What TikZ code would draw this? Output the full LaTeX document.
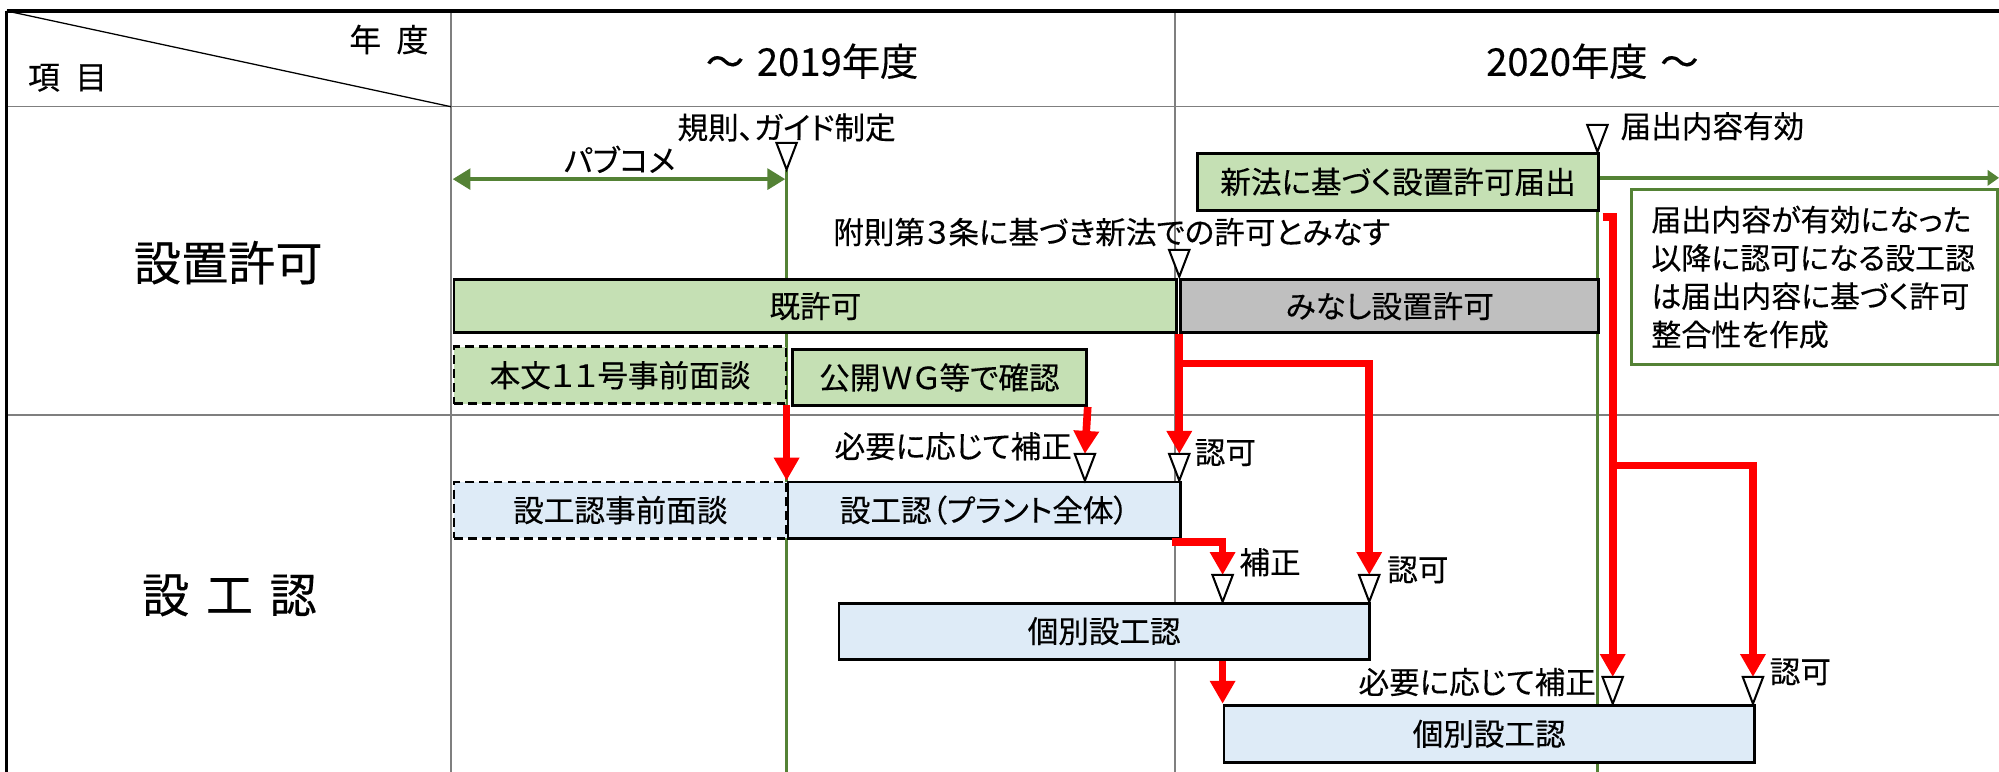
\documentclass[tikz,border=0pt]{standalone}
\usepackage{fontspec}
\setmainfont{Noto Sans CJK JP}[RawFeature=+palt,FakeBold=0.3]
\usetikzlibrary{arrows.meta,calc}
\definecolor{gfill}{HTML}{C5E0B4}
\definecolor{bfill}{HTML}{DEEBF7}
\definecolor{grayfill}{HTML}{BFBFBF}
\definecolor{ggreen}{HTML}{548235}
\definecolor{tline}{HTML}{7F7F7F}
\begin{document}
\begin{tikzpicture}[x=1pt,y=-1pt,
  box/.style={draw=black, line width=2.2pt, inner sep=0pt, anchor=north west, font=\fontsize{24}{28}\selectfont},
  gbox/.style={box, fill=gfill},
  bbox/.style={box, fill=bfill},
  ybox/.style={box, fill=grayfill},
  dbox/.style={dash pattern=on 7pt off 4pt},
  rarrow/.style={draw=red, line width=6pt, -{Triangle[width=19pt,length=18pt]}},
  gline/.style={draw=ggreen, line width=2.6pt},
  tl/.style={draw=tline, line width=1.2pt},
  lbl/.style={inner sep=0pt, font=\fontsize{24}{28}\selectfont},
  big/.style={inner sep=0pt, font=\fontsize{37}{40}\selectfont},
  hdr/.style={inner sep=0pt, font=\fontsize{30}{34}\selectfont},
  tri/.pic={\draw[line width=1.6pt, fill=white, line join=miter] (0,0) -- (-8,-21) -- (8,-21) -- cycle;}
]
\useasboundingbox (0,0) rectangle (1568,605);
\clip (0,0) rectangle (1568,605);
\fill[white] (0,0) rectangle (1568,605);

% ---- table ----
\coordinate (tl0) at (5.3,8.6);
\coordinate (hdr) at (353.7,83.7);
\coordinate (bot) at (0,612);
\coordinate (rgt) at (1572,0);
\draw[tl] (tl0 |- hdr) -- (rgt |- hdr);
\draw[tl] (tl0 |- 0,325.5) -- (rgt |- 0,325.5);
\draw[tl] (hdr |- tl0) -- (hdr |- bot);
\draw[tl] (921.7,8.6) -- (921.7,612);
\draw[line width=1pt] (tl0) -- (hdr);
\draw[line width=2.6pt] (tl0) -- (rgt |- tl0);
\draw[line width=2pt] (tl0) -- (tl0 |- bot);

\node[lbl, font=\fontsize{25}{28}\selectfont] (nendo) at (305,31) {年\hspace{12pt}度};
\node[lbl, font=\fontsize{25}{28}\selectfont] (komoku) at (53,61) {項\hspace{12pt}目};
\node[hdr] (y2019) at (637,48) {～\hspace{10pt}2019年度};
\node[hdr] (y2020) at (1249,48) {2020年度\hspace{10pt}～};
\node[big] (secchi) at (179,206) {設置許可};
\node[big] (sekkounin) at (180,467) {設\hspace{13pt}工\hspace{13pt}認};

% ---- marker coordinates ----
\coordinate (tk) at (617,133);
\coordinate (tt) at (1253,119);
\coordinate (tf) at (925,217);
\coordinate (th1) at (851,377);
\coordinate (tn1) at (925,377);
\coordinate (th2) at (959,472);
\coordinate (tn2) at (1074,472);
\coordinate (th3) at (1265,552);
\coordinate (tn3) at (1375,552);
\coordinate (th1t) at (851,356);
\coordinate (tn1t) at (925,356);
\coordinate (th2t) at (959,451);
\coordinate (tn2t) at (1074,451);
\coordinate (th3t) at (1265,531);
\coordinate (tn3t) at (1375,531);

% ---- green lines ----
\draw[gline] (tk) -- (tk |- bot);
\draw[gline] (tt) -- (tt |- bot);
\coordinate (pa) at (355,140.5);
\coordinate (pb) at (616,140.5);
\draw[gline, line width=3.5pt, {Triangle[width=16pt,length=14pt]}-{Triangle[width=16pt,length=14pt]}] (pa) -- (pb);
\coordinate (ra) at (1568,139.5);
\draw[gline, line width=3.2pt, -{Triangle[width=12pt,length=9pt]}] (1254,139.5) -- (ra);

% ---- boxes ----
\node[gbox, minimum width=315pt, minimum height=45pt] (shinpo) at (938,119) {新法に基づく設置許可届出};
\node[gbox, minimum width=567pt, minimum height=42pt] (kyo) at (355,218) {既許可};
\node[ybox, minimum width=328pt, minimum height=42pt] (minashi) at (925,218) {みなし設置許可};
\node[gbox, dbox, minimum width=260.5pt, minimum height=44.5pt] (honbun) at (355,271) {本文１１号事前面談};
\node[gbox, minimum width=230.5pt, minimum height=44pt] (wg) at (620.5,273) {公開ＷＧ等で確認};
\node[bbox, dbox, minimum width=261pt, minimum height=44pt] (jizen) at (355,377) {設工認事前面談};
\node[bbox, minimum width=308pt, minimum height=44pt] (setsu) at (617,377) {設工認（プラント全体）};
\node[bbox, minimum width=416pt, minimum height=44pt] (kobetsu1) at (657,472) {個別設工認};
\node[bbox, minimum width=416pt, minimum height=45pt] (kobetsu2) at (959,552) {個別設工認};
\node[draw=ggreen, line width=2.6pt, fill=white, anchor=north west, minimum width=287.5pt, minimum height=137pt,
      inner xsep=15.5pt, inner ysep=0pt, text width=256.5pt, align=left,
      font=\fontsize{23.5}{30}\selectfont] (note) at (1278.5,147.5)
  {届出内容が有効になった\\以降に認可になる設工認\\は届出内容に基づく許可\\整合性を作成};

% ---- red connectors ----
\coordinate (br1) at (925,285);
\coordinate (br2) at (919,425);
\coordinate (br3) at (1257,170);
\coordinate (br4) at (1265,365);
\draw[rarrow] (setsu.north west |- honbun.south) -- (setsu.north west);
\draw[rarrow] (wg.south east) -- (th1t);
\draw[rarrow] (minashi.south west) -- (tn1t);
\draw[rarrow] (br1) -| (tn2t);
\draw[rarrow] (br2) -| (th2t);
\draw[rarrow] (kobetsu2.north west |- kobetsu1.south) -- (kobetsu2.north west);
\draw[rarrow] (br3) -| (th3t);
\draw[rarrow] (br4) -| (tn3t);

% ---- triangles ----
\foreach \p in {tk,tt,tf,th1,tn1,th2,tn2,th3,tn3} { \pic at (\p) {tri}; }

% ---- labels ----
\node[lbl] (kisoku) at (617,100) {規則、ガイド制定};
\node[lbl] (pabukome) at (486,125) {パブコメ};
\node[lbl, anchor=west] (yuko) at (1271,99) {届出内容有効};
\node[lbl] (fusoku) at (872,182) {附則第３条に基づき新法での許可とみなす};
\node[lbl, anchor=east] (hosei1) at (841,350) {必要に応じて補正};
\node[lbl, anchor=west] (nin1) at (937,355) {認可};
\node[lbl, anchor=west] (hosei2) at (972,441) {補正};
\node[lbl, anchor=west] (nin2) at (1088,447) {認可};
\node[lbl, anchor=east] (hosei3) at (1252,535) {必要に応じて補正};
\node[lbl, anchor=west] (nin3) at (1388,527) {認可};
\end{tikzpicture}
\end{document}
